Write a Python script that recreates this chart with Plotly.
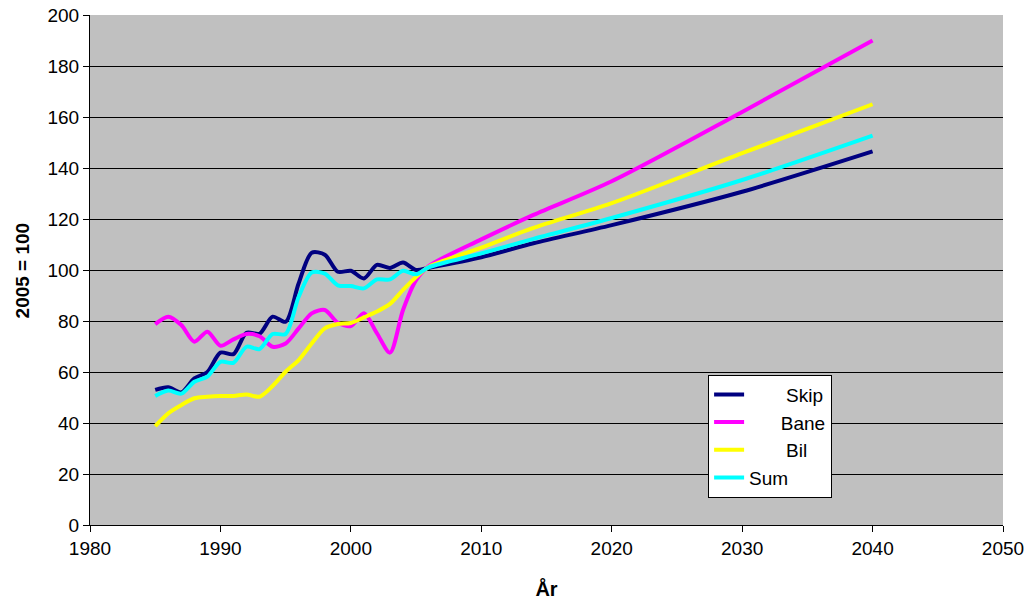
import plotly.graph_objects as go

# Historical index values (2005 = 100) and projections to 2040
years = [1985, 1986, 1987, 1988, 1989, 1990, 1991, 1992, 1993, 1994, 1995,
         1996, 1997, 1998, 1999, 2000, 2001, 2002, 2003, 2004, 2005,
         2006, 2010, 2014, 2020, 2030, 2040]

skip = [53, 54, 52, 57.5, 60, 67.6, 67, 75.4, 75, 81.7, 79.7,
        94.8, 106.8, 106, 99.3, 99.7, 96.7, 102, 100.8, 102.9, 100,
        100.9, 105, 110.5, 117.6, 130.7, 146.5]
bane = [78.8, 81.7, 78.4, 71.9, 75.8, 70.3, 72.8, 74.9, 74, 69.9, 71.2,
        77.1, 83, 84.3, 79.3, 78, 83, 75.2, 67.6, 84.3, 96,
        101.6, 112, 121.6, 134.8, 162, 190]
bil = [38.8, 43.8, 47, 49.7, 50.3, 50.6, 50.6, 51.2, 50.3, 54.5, 60.1,
       64.7, 71.2, 77.1, 78.8, 79.2, 81.4, 83.7, 86.7, 92.2, 97.3,
       101.3, 108.8, 116.5, 126.2, 145.8, 165]
total = [50.6, 52.7, 51.5, 56.2, 58.2, 64, 63.6, 69.9, 69, 74.9, 74.9,
         89.5, 99, 98.6, 94, 93.7, 92.8, 96.3, 96.3, 99.7, 98.3,
         101.1, 106.5, 112.2, 120.4, 135.3, 152.7]

NB = "\u00a0"
series = [
    (NB * 7 + "Skip", skip, "#000080"),
    (NB * 6 + "Bane", bane, "#FF00FF"),
    (NB * 7 + "Bil", bil, "#FFFF00"),
    ("Sum", total, "#00FFFF"),
]

fig = go.Figure()
for name, vals, color in series:
    fig.add_trace(go.Scatter(
        x=years, y=vals, name=name, mode="lines",
        line=dict(color=color, width=4, shape="spline", smoothing=0.8),
    ))

FAMILY = "Liberation Sans, Arial, sans-serif"
axis_font = dict(family=FAMILY, size=19, color="black")

fig.update_layout(
    width=1030, height=600,
    margin=dict(l=90, r=27, t=15, b=75),
    paper_bgcolor="white",
    plot_bgcolor="#C0C0C0",
    font=axis_font,
    showlegend=True,
    legend=dict(
        x=0.677, y=0.295, xanchor="left", yanchor="top",
        bgcolor="white", bordercolor="black", borderwidth=1,
        font=dict(family=FAMILY, size=19, color="black"),
        itemwidth=30, tracegroupgap=0,
    ),
    xaxis=dict(
        range=[1980, 2050], dtick=10, tick0=1980,
        showgrid=False, zeroline=False,
        showline=True, linecolor="black", linewidth=1,
        ticks="outside", ticklen=6, tickcolor="black",
        tickfont=axis_font, automargin=False,
        title=dict(text="<b>År</b>", font=dict(family=FAMILY, size=20), standoff=24),
    ),
    yaxis=dict(
        range=[0, 200], dtick=20,
        showgrid=True, gridcolor="black", gridwidth=1,
        zeroline=False,
        showline=True, linecolor="black", linewidth=1,
        ticks="outside", ticklen=6, tickcolor="black",
        tickfont=axis_font, automargin=False,
    ),
    annotations=[dict(
        text="<b>2005 = 100</b>", textangle=-90,
        xref="paper", yref="paper", x=-0.074, y=0.5,
        xanchor="center", yanchor="middle", showarrow=False,
        font=dict(family=FAMILY, size=19, color="black"),
    )],
)

fig.write_html("out.html")
